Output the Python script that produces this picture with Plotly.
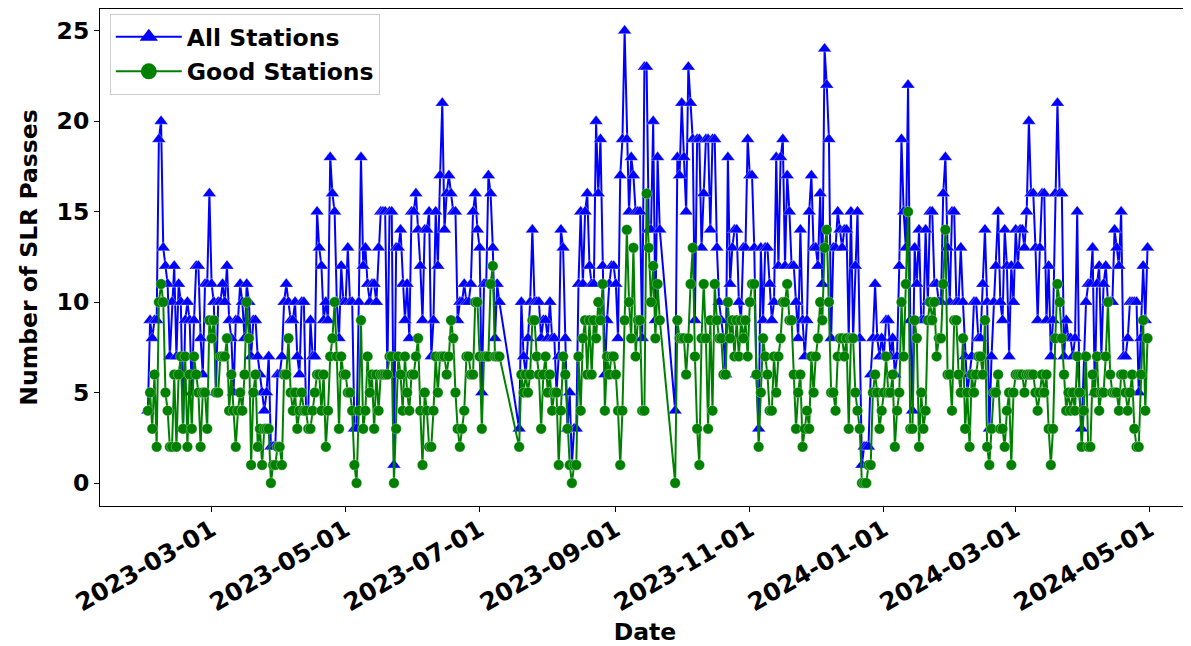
import pandas as pd
import plotly.graph_objects as go

# ---- Segment A: 2023-01-31 .. 2023-07-10 (daily) ----
seg_a_start = "2023-01-31"
all_a = [4, 9, 8, 9, 9, 19, 20, 13, 12, 11, 7, 10, 12, 7, 11, 10, 3, 9, 10, 9,
         5, 9, 12, 12, 8, 6, 11, 11, 16, 11, 10, 5, 10, 10, 11, 10, 12, 9,
         8, 5, 9, 9, 11, 10, 8, 11, 10, 7, 9, 9, 7, 6, 5, 4, 5, 7, 2, 2,
         2, 6, 6, 7, 10, 11, 10, 9, 9, 10, 7, 6, 10, 10, 4, 4, 9, 7, 7, 15, 13, 12,
         9, 10, 9, 18, 16, 15, 10, 8, 12, 10, 10, 13, 10, 10, 3, 3, 10, 18, 12, 13,
         11, 10, 11, 11, 10, 13, 15, 15, 15, 6, 15, 15, 1, 13, 13, 14, 11, 9, 11, 8, 15,
         15, 16, 14, 12, 9, 14, 14, 15, 7, 9, 15, 12, 17, 21, 14, 16, 17, 16, 15, 15,
         9, 10, 10, 11, 10, 10, 11, 15, 16, 14, 13, 5, 11, 11, 17, 16, 13, 8, 11, 10]
good_a = [4, 5, 3, 6, 2, 10, 11, 10, 5, 4, 2, 2, 6, 2, 6, 7, 3, 7, 2, 6,
          3, 7, 6, 5, 2, 5, 5, 3, 9, 8, 9, 5, 5, 7, 7, 7, 8, 4,
          6, 4, 2, 4, 5, 4, 6, 10, 8, 1, 5, 6, 2, 3, 1, 3, 3, 3, 0, 1,
          1, 2, 2, 1, 6, 6, 8, 5, 4, 5, 3, 4, 5, 4, 4, 3, 3, 4, 5, 6, 6, 4,
          6, 2, 4, 7, 8, 10, 7, 3, 7, 6, 6, 5, 5, 4, 1, 0, 4, 9, 3, 4,
          7, 5, 6, 3, 6, 4, 6, 6, 6, 6, 7, 7, 0, 3, 7, 6, 4, 7, 5, 4, 6,
          6, 7, 8, 4, 1, 5, 4, 2, 2, 4, 7, 5, 7, 7, 7, 6, 7, 9, 8, 5,
          3, 2, 3, 4, 7, 7, 6, 6, 10, 10, 7, 3, 7, 7, 7, 11, 12, 7, 7, 7]

# ---- Segment B: 2023-07-19 .. 2023-09-21 ----
seg_b_start = "2023-07-19"
all_b = [3, 10, 7, 6, 8, 10, 14, 10, 10, 10, 8, 9, 9, 8, 10, 8, 8, 5, 7, 14,
         13, 8, 3, 5, 1, 3, 3, 11, 15, 11, 15, 16, 12, 11,
         11, 20, 16, 19, 12, 6, 9, 11, 12, 12, 11, 8, 17, 19, 25, 19, 15, 18, 17, 15,
         15, 15, 8, 23, 23, 14, 14, 20, 9, 18, 14]
good_b = [2, 6, 5, 6, 5, 6, 9, 9, 7, 6, 3, 6, 7, 5, 6, 4, 5, 5, 1, 4,
          7, 6, 3, 1, 0, 1, 1, 7, 4, 8, 9, 6, 9, 6,
          9, 8, 10, 9, 11, 4, 7, 6, 7, 7, 6, 4, 1, 4, 9, 14, 10, 8, 13, 7,
          9, 9, 4, 4, 16, 13, 10, 12, 8, 11, 9]

# ---- Segment C: 2023-09-28 .. 2024-04-30 ----
seg_c_start = "2023-09-28"
all_c = [4, 18, 17, 21, 18, 15, 23, 21, 19, 9, 19, 19, 13, 16, 19, 19, 14, 19, 19, 13,
         10, 9, 8, 6, 18, 11, 13, 14, 14, 10, 9, 13, 13, 19, 17, 17, 13, 6, 3, 13,
         9, 13, 13, 11,
         9, 10, 18, 12, 18, 19, 12, 17, 15, 12, 12, 10, 8, 14, 9, 7, 9, 15, 17, 13,
         13, 12, 16, 11, 24, 22, 19, 8, 13, 13, 15, 14, 13, 14, 14, 8, 15, 8, 12, 15, 8, 1,
         2, 2, 2, 6, 8, 11, 8, 7, 8, 7, 9, 9, 7, 8, 6, 7, 12, 19, 15, 13,
         22, 9, 4, 13, 11, 14, 9, 9, 14, 10, 15, 15, 11, 11, 10, 10, 16, 18, 13, 10, 15,
         15, 10, 10, 13, 10, 7, 5, 6, 7, 10, 10, 8, 8, 11, 14, 10, 3, 7, 10, 12,
         15, 10, 9, 14, 12, 7, 12, 10, 14, 12, 14, 14, 13, 15, 20, 16, 16, 13, 9, 13, 16,
         16, 9, 12, 7, 9, 16, 21, 16, 16, 7, 9, 8, 8, 7, 8, 15, 5, 3, 7, 10,
         11, 11, 13, 5, 11, 12, 7, 11, 12, 10, 10, 10, 14, 13, 12, 15, 7, 7, 8, 10, 10,
         10, 10, 5, 8, 12, 9, 13]
good_c = [0, 9, 8, 8, 8, 6, 8, 11, 13, 7, 3, 1, 8, 11, 8, 3, 9, 4, 11, 9,
          8, 8, 6, 6, 10, 8, 9, 7, 9, 7, 9, 8, 9, 7, 10, 11, 11, 6, 2, 5,
          8, 7, 6, 4,
          4, 7, 5, 7, 8, 10, 10, 11, 9, 9, 6, 3, 5, 6, 2, 3, 4, 3, 7, 5,
          7, 8, 10, 9, 13, 14, 10, 5, 5, 4, 7, 8, 8, 7, 8, 3, 8, 8, 5, 4, 3, 0,
          0, 0, 1, 1, 5, 6, 5, 3, 4, 5, 7, 5, 5, 6, 2, 4, 5, 10, 7, 11,
          15, 3, 3, 9, 8, 2, 5, 3, 4, 9, 10, 9, 10, 7, 8, 8, 11, 14, 6, 6, 4,
          9, 9, 6, 5, 8, 3, 5, 2, 6, 5, 6, 7, 7, 6, 9, 2, 1, 3, 5, 5,
          6, 3, 3, 2, 4, 5, 1, 5, 6, 6, 6, 6, 5, 6, 6, 6, 6, 5, 4, 5, 6,
          5, 6, 3, 1, 3, 8, 11, 10, 8, 6, 4, 5, 4, 5, 4, 7, 5, 2, 4, 7,
          2, 2, 6, 5, 7, 4, 5, 5, 7, 10, 6, 5, 5, 5, 4, 6, 6, 5, 4, 5, 6,
          3, 2, 2, 6, 9, 4, 8]

tick_dates = ["2023-03-01", "2023-05-01", "2023-07-01", "2023-09-01",
              "2023-11-01", "2024-01-01", "2024-03-01", "2024-05-01"]
y_ticks = [0, 5, 10, 15, 20, 25]

dates, all_vals, good_vals = [], [], []
for start, a, g in [(seg_a_start, all_a, good_a), (seg_b_start, all_b, good_b),
                    (seg_c_start, all_c, good_c)]:
    n = min(len(a), len(g))
    if len(a) != len(g):
        print("length mismatch", start, len(a), len(g))
    dates += list(pd.date_range(start, periods=n, freq="D"))
    all_vals += a[:n]
    good_vals += g[:n]

FONT = "DejaVu Sans"
FS = 23.5
BLUE = "#0000ff"
GREEN = "#008000"
EDGE = dict(color="rgba(255,255,255,0.6)", width=0.5)

fig = go.Figure()
fig.add_trace(go.Scatter(
    x=dates, y=all_vals, mode="lines+markers", name="All Stations", showlegend=False,
    line=dict(color=BLUE, width=2),
    marker=dict(symbol="triangle-up", size=12, color=BLUE, line=EDGE),
))
fig.add_trace(go.Scatter(
    x=dates, y=good_vals, mode="lines+markers", name="Good Stations", showlegend=False,
    line=dict(color=GREEN, width=2),
    marker=dict(symbol="circle", size=10.5, color=GREEN, line=EDGE),
))
# legend entries (larger symbols like the reference legend)
fig.add_trace(go.Scatter(
    x=[None], y=[None], mode="lines+markers", name="All Stations", legendgroup="a",
    line=dict(color=BLUE, width=2),
    marker=dict(symbol="triangle-up", size=18, color=BLUE),
))
fig.add_trace(go.Scatter(
    x=[None], y=[None], mode="lines+markers", name="Good Stations", legendgroup="g",
    line=dict(color=GREEN, width=2),
    marker=dict(symbol="circle", size=18, color=GREEN),
))

fig.update_layout(
    width=1183, height=638,
    margin=dict(l=92, r=1, t=1, b=140),
    paper_bgcolor="white", plot_bgcolor="white",
    font=dict(family=FONT, size=FS, color="black", weight="bold"),
    showlegend=True,
    legend=dict(x=0.009, y=0.99, xanchor="left", yanchor="top",
                bgcolor="rgba(255,255,255,0.9)", bordercolor="#cccccc", borderwidth=1,
                font=dict(family=FONT, size=FS, color="black", weight="bold"),
                itemwidth=66, tracegroupgap=1, itemsizing="trace"),
)
fig.update_xaxes(
    range=["2023-01-09 05:00", "2024-05-19 08:00"],
    tickvals=tick_dates, ticktext=tick_dates, tickangle=-30,
    ticks="outside", ticklen=5, tickwidth=1, tickcolor="black",
    showline=True, linecolor="black", linewidth=1, mirror=True,
    showgrid=False, zeroline=False, ticklabelstandoff=-6,
    tickfont=dict(family=FONT, size=24.5, color="black", weight="bold"),
    title=dict(text="Date", font=dict(family=FONT, size=FS, color="black", weight="bold"),
               standoff=8),
)
fig.update_yaxes(
    range=[-1.27, 26.2],
    tickvals=y_ticks,
    ticks="outside", ticklen=5, tickwidth=1, tickcolor="black",
    showline=True, linecolor="black", linewidth=1, mirror=True,
    showgrid=False, zeroline=False,
    tickfont=dict(family=FONT, size=FS, color="black", weight="bold"),
    title=dict(text="Number of SLR Passes",
               font=dict(family=FONT, size=FS, color="black", weight="bold"), standoff=12),
)

fig.write_html("out.html")
